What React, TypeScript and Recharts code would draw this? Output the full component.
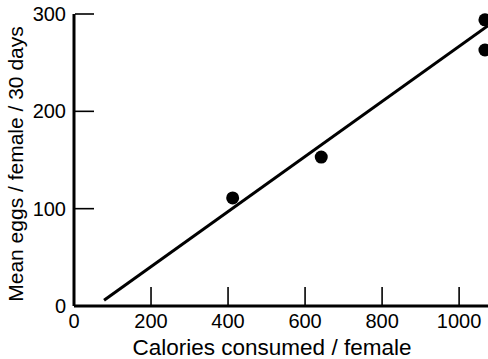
import { ScatterChart, Scatter, XAxis, YAxis } from 'recharts';

// measured points
const calories = [412, 642, 1067, 1067];
const eggs = [111, 153, 294, 263];
// fitted line ends
const fitCalories = [78, 1075];
const fitEggs = [6, 288];
const xTicks = [0, 200, 400, 600, 800, 1000];
const yTicks = [0, 100, 200, 300];

const points = calories.map((c, i) => ({ x: c, y: eggs[i] }));
const fit = fitCalories.map((c, i) => ({ x: c, y: fitEggs[i] }));

const font = '"Liberation Sans", Arial, sans-serif';

const XTick = (props: any) => {
  const { x, y, payload } = props;
  return (
    <g>
      {payload.value !== 0 && (
        <line x1={x} x2={x} y1={y - 1} y2={y - 19} stroke="#000" strokeWidth={1.6} />
      )}
      <text x={x} y={y + 22} textAnchor="middle" fontSize={20} fill="#000" fontFamily={font}>
        {payload.value}
      </text>
    </g>
  );
};

const YTick = (props: any) => {
  const { x, y, payload } = props;
  const isZero = payload.value === 0;
  return (
    <g>
      {!isZero && (
        <line x1={x + 1} x2={x + 20} y1={y} y2={y} stroke="#000" strokeWidth={1.6} />
      )}
      <text x={x - 8} y={y + 7} textAnchor="end" fontSize={20} fill="#000" fontFamily={font}>
        {payload.value}
      </text>
    </g>
  );
};

const Dot = (props: any) => <circle cx={props.cx} cy={props.cy} r={6.5} fill="#000" />;

export default function App() {
  return (
    <div style={{ position: 'absolute', left: 0, top: 0, background: '#fff' }}>
      <ScatterChart width={488} height={359} margin={{ top: 14, right: 0, left: 0, bottom: 0 }}>
        <XAxis
          type="number"
          dataKey="x"
          domain={[0, 1072]}
          ticks={xTicks}
          height={53}
          tickSize={0}
          tickMargin={0}
          tickLine={false}
          tick={<XTick />}
          axisLine={{ stroke: '#000', strokeWidth: 3 }}
          label={{
            value: 'Calories consumed / female',
            position: 'insideBottom',
            offset: 4,
            dx: -9,
            fontSize: 22.5,
            fill: '#000',
            fontFamily: font,
          }}
        />
        <YAxis
          type="number"
          dataKey="y"
          domain={[0, 300]}
          ticks={yTicks}
          width={74}
          tickSize={0}
          tickMargin={0}
          tickLine={false}
          tick={<YTick />}
          axisLine={{ stroke: '#000', strokeWidth: 3 }}
          label={{
            value: 'Mean eggs / female / 30 days',
            angle: -90,
            position: 'insideLeft',
            offset: 16,
            dy: 4,
            style: { textAnchor: 'middle' },
            fontSize: 21,
            fill: '#000',
            fontFamily: font,
          }}
        />
        <Scatter
          data={fit}
          line={{ stroke: '#000', strokeWidth: 3 }}
          shape={() => <g />}
          isAnimationActive={false}
        />
        <Scatter data={points} shape={<Dot />} isAnimationActive={false} />
      </ScatterChart>
    </div>
  );
}
